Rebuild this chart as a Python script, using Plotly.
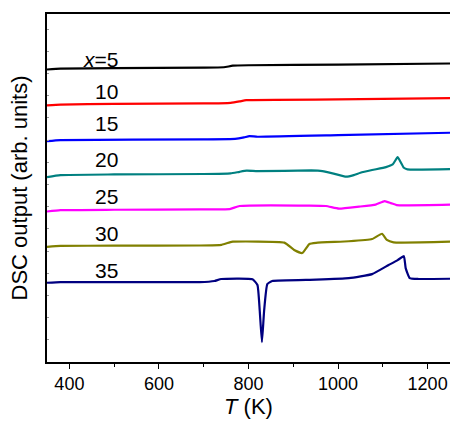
import plotly.graph_objects as go

# DSC traces, y in arbitrary units (offset per composition)
T_5 = [350, 380, 500, 700, 745, 765, 800, 1000, 1250]
y_5 = [13.18, 13.22, 13.24, 13.26, 13.28, 13.35, 13.37, 13.40, 13.45]

T_10 = [350, 380, 500, 700, 760, 780, 795, 1000, 1250]
y_10 = [11.56, 11.60, 11.63, 11.65, 11.68, 11.74, 11.80, 11.83, 11.89]

T_15 = [350, 380, 700, 770, 790, 802, 820, 1000, 1250]
y_15 = [9.95, 10.00, 10.03, 10.05, 10.12, 10.18, 10.15, 10.22, 10.33]

T_20 = [350, 380, 500, 700, 760, 780, 796, 820, 940, 965, 990, 1018, 1035, 1050,
        1076, 1107, 1122, 1133, 1140, 1147, 1155, 1250]
y_20 = [8.33, 8.42, 8.45, 8.47, 8.50, 8.57, 8.62, 8.60, 8.63, 8.60, 8.49, 8.35, 8.42, 8.53,
        8.65, 8.78, 8.90, 9.23, 9.00, 8.75, 8.68, 8.69]

T_25 = [350, 380, 500, 691, 758, 780, 936, 973, 1002, 1047, 1084, 1104, 1118, 1131, 1250]
y_25 = [6.78, 6.84, 6.86, 6.88, 6.89, 7.03, 7.05, 7.03, 6.91, 7.00, 7.09, 7.25, 7.16, 7.07, 7.09]

T_30 = [350, 380, 500, 691, 740, 758, 765, 880, 902, 920, 936, 951, 1024, 1076,
        1098, 1109, 1124, 1250]
y_30 = [5.19, 5.23, 5.24, 5.25, 5.28, 5.39, 5.42, 5.38, 5.05, 4.91, 5.32, 5.37, 5.44, 5.54,
        5.78, 5.50, 5.39, 5.42]

T_35 = [350, 380, 500, 691, 724, 739, 809, 820, 825, 830, 835, 842, 853, 951, 1024,
        1076, 1113, 1133, 1147, 1151, 1160, 1180, 1250]
y_35 = [3.57, 3.60, 3.60, 3.60, 3.65, 3.74, 3.73, 3.47, 2.34, 0.90, 2.34, 3.51, 3.65, 3.71, 3.78,
        3.96, 4.37, 4.59, 4.77, 4.23, 3.78, 3.74, 3.75]

labels = ["<i>x</i>=5", "10", "15", "20", "25", "30", "35"]
label_y = [13.65, 12.21, 10.74, 9.14, 7.45, 5.77, 4.14]
colors = ["#000000", "#FF0000", "#0000FF", "#008080", "#FF00FF", "#808000", "#000080"]

series = [(T_5, y_5), (T_10, y_10), (T_15, y_15), (T_20, y_20),
          (T_25, y_25), (T_30, y_30), (T_35, y_35)]

fig = go.Figure()
for (t, y), c in zip(series, colors):
    fig.add_trace(go.Scatter(x=t, y=y, mode='lines',
                             line=dict(color=c, width=2.2, shape='spline', smoothing=0.4),
                             showlegend=False))

for lab, ly in zip(labels, label_y):
    fig.add_annotation(x=512, y=ly, text=lab, showarrow=False, xanchor='right',
                       yanchor='middle', font=dict(size=21, color='black'))

fig.update_layout(
    width=450, height=421,
    margin=dict(l=47, r=0, t=14, b=59),
    plot_bgcolor='white', paper_bgcolor='white',
    font=dict(family='Arial, Liberation Sans, sans-serif', size=18, color='black'),
)
fig.update_xaxes(range=[350, 1250], tickvals=[400, 600, 800, 1000, 1200],
                 ticks='outside', ticklen=5, tickwidth=1, tickcolor='black',
                 minor=dict(tickvals=[500, 700, 900, 1100], ticks='outside', ticklen=3,
                            tickcolor='black'),
                 showline=True, linewidth=1.5, linecolor='black', mirror=True,
                 showgrid=False, zeroline=False, automargin=False,
                 title=dict(text='<i>T</i> (K)', standoff=4))
fig.update_yaxes(range=[0, 15.68], tick0=0, dtick=1, showticklabels=False,
                 ticks='inside', ticklen=2, tickcolor='#999999',
                 showline=True, linewidth=1.5, linecolor='black',
                 showgrid=False, zeroline=False, automargin=False,
                 title=dict(text='DSC output (arb. units)', standoff=12))

# drop the default body margin so the figure fills the window exactly
fig.write_html("out.html", config={'displayModeBar': False},
               post_script="document.body.style.margin='0';document.body.style.overflow='hidden';")
